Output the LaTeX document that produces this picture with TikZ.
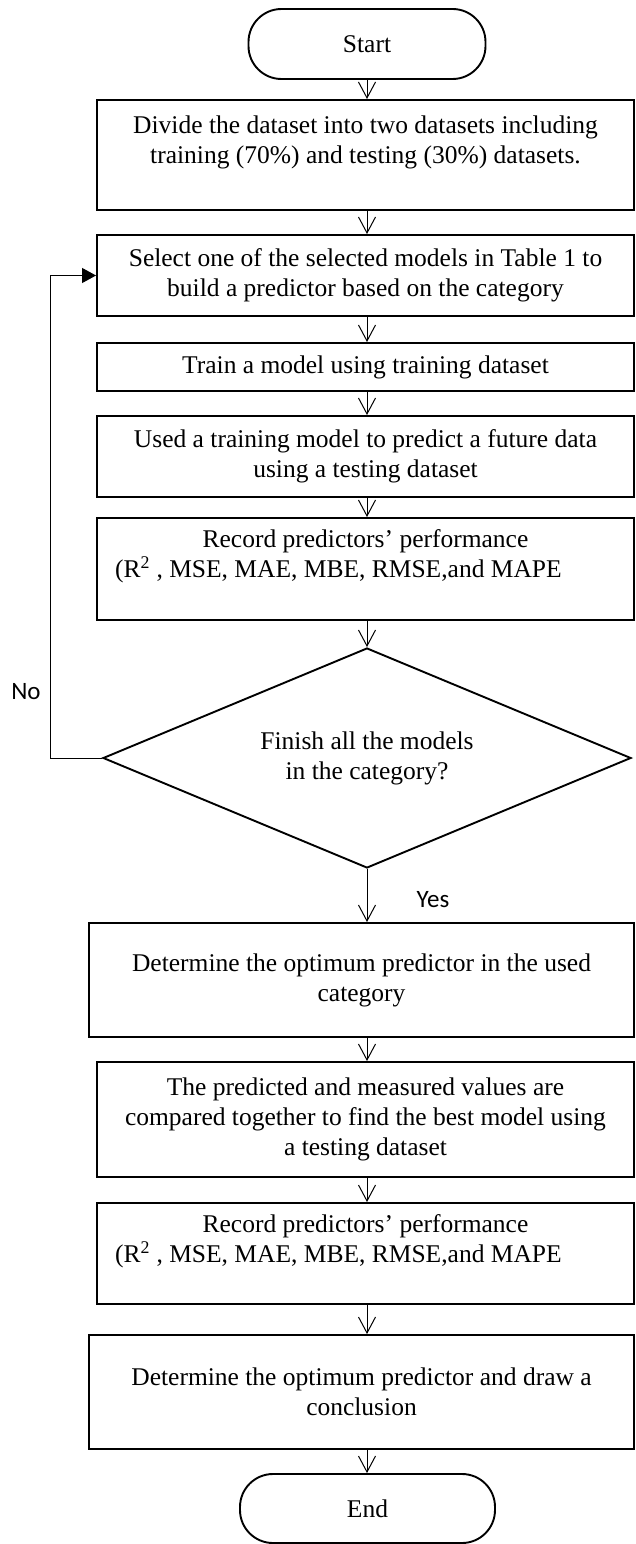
\documentclass[tikz,border=0pt]{standalone}
\usepackage{fontspec}
\setmainfont{Liberation Serif}
\newfontfamily\labfont{Carlito}
\usetikzlibrary{shapes.geometric,arrows.meta}
\begin{document}
\begin{tikzpicture}[x=1pt,y=-1pt,
  box/.style={draw, line width=1.9pt, align=center, inner sep=0pt, font=\fontsize{25.5}{30}\selectfont},
  term/.style={box, rounded corners=33pt},
  decbox/.style={diamond, draw, line width=1.9pt, aspect=2.4, inner sep=0pt, align=center, font=\fontsize{25.5}{30}\selectfont},
  arr/.style={line width=1pt, -{Straight Barb[length=16pt,width=17pt]}},
  looparr/.style={line width=1pt, -{Triangle[length=14pt,width=15pt]}},
  lab/.style={font=\labfont\fontsize{25}{30}\selectfont, inner sep=0pt}
]
\useasboundingbox (0,0) rectangle (636,1544);
\node[term, minimum width=237pt, minimum height=70pt] (start) at (367,44) {Start};
\node[box, minimum width=537pt, minimum height=110pt] (divide) at (365.5,155) {Divide the dataset into two datasets including\\ training (70\%) and testing (30\%) datasets.\\ \mbox{}};
\node[box, minimum width=537pt, minimum height=81pt] (select) at (365.5,275.5) {Select one of the selected models in Table 1 to\\ build a predictor based on the category};
\node[box, minimum width=537pt, minimum height=48pt] (train) at (365.5,367) {Train a model using training dataset};
\node[box, minimum width=537pt, minimum height=81pt] (used) at (365.5,456.5) {Used a training model to predict a future data\\ using a testing dataset};
\node[box, minimum width=537pt, minimum height=102pt] (rec1) at (365.5,569) {Record predictors’ performance\\ (R\textsuperscript{2} , MSE, MAE, MBE, RMSE,and MAPE\hspace*{54pt}\mbox{}\\ \mbox{}};
\node[decbox, minimum width=528pt, minimum height=220pt] (dec) at (367,758) {Finish all the models\\ in the category?};
\node[box, minimum width=545pt, minimum height=114pt] (det) at (361.5,980) {Determine the optimum predictor in the used\\ category};
\node[box, minimum width=537pt, minimum height=115pt] (pred) at (365.5,1119.5) {The predicted and measured values are\\ compared together to find the best model using\\ a testing dataset};
\node[box, minimum width=537pt, minimum height=101pt] (rec2) at (365.5,1253.5) {Record predictors’ performance\\ (R\textsuperscript{2} , MSE, MAE, MBE, RMSE,and MAPE\hspace*{54pt}\mbox{}\\ \mbox{}};
\node[box, minimum width=545pt, minimum height=114pt] (concl) at (361.5,1392) {Determine the optimum predictor and draw a\\ conclusion};
\node[term, minimum width=255pt, minimum height=69pt] (end) at (367.5,1508.5) {End};

\draw[arr] (start.south) -- (divide.north -| start.south);
\draw[arr] (divide.south -| start.south) -- (select.north -| start.south);
\draw[arr] (select.south -| start.south) -- (train.north -| start.south);
\draw[arr] (train.south -| start.south) -- (used.north -| start.south);
\draw[arr] (used.south -| start.south) -- (rec1.north -| start.south);
\draw[arr] (rec1.south -| start.south) -- (dec.north);
\draw[arr] (dec.south) -- (det.north -| dec.south);
\draw[arr] (det.south -| start.south) -- (pred.north -| start.south);
\draw[arr] (pred.south -| start.south) -- (rec2.north -| start.south);
\draw[arr] (rec2.south -| start.south) -- (concl.north -| start.south);
\draw[arr] (concl.south -| start.south) -- (end.north -| start.south);
\draw[looparr] (dec.west) -- ++(-51.5,0) coordinate (lp) |- (select.west);

\node[lab] (no) at (26,692) {No};
\node[lab] (yes) at (433,900) {Yes};
\end{tikzpicture}
\end{document}
